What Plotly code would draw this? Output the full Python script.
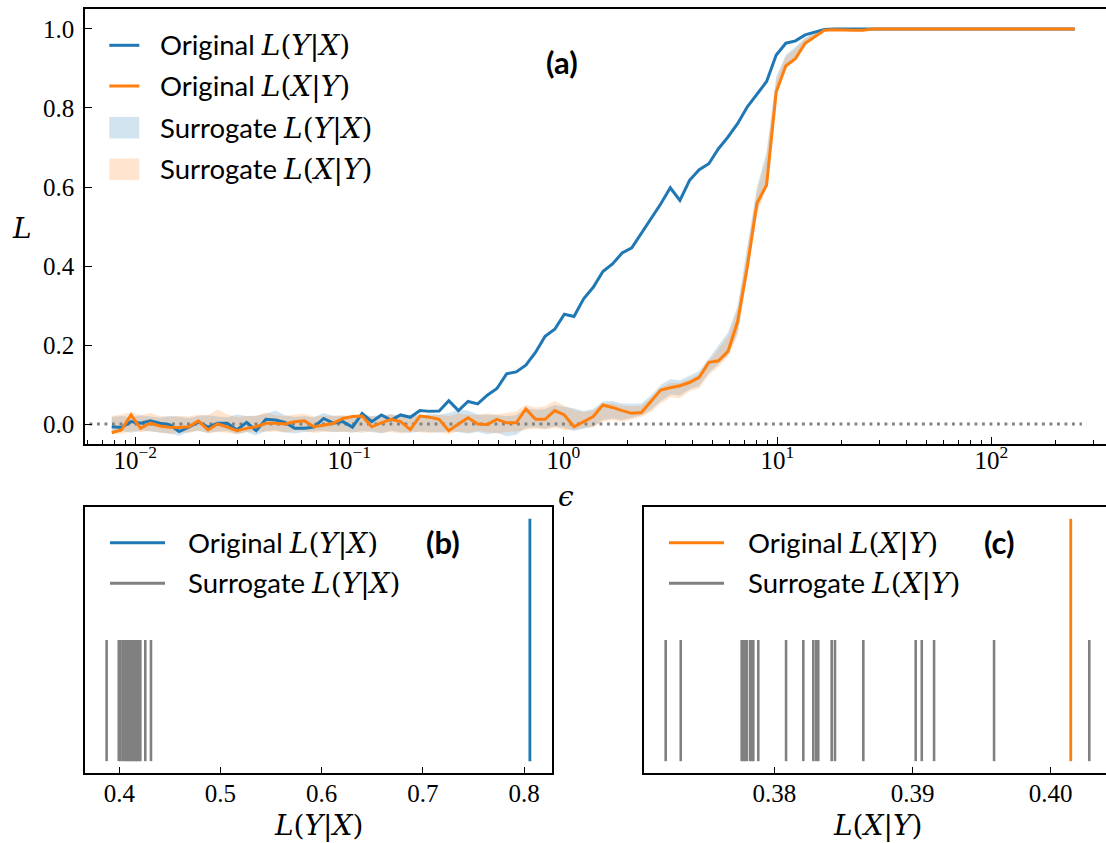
import numpy as np
import plotly.graph_objects as go

W, H = 1106, 843

# ---------------- data: panel (a) ----------------
EPS = np.logspace(-2.11, 2.39, 101)

L_YX = [-0.007, -0.009, 0.006, 0.002, 0.008, 0.002, -0.002, -0.019, -0.008, 0.005,
        -0.008, 0.002, 0.002, -0.015, 0.004, -0.017, 0.012, 0.010, 0.004, -0.011,
        -0.011, -0.008, 0.014, 0.002, 0.006, -0.008, 0.027, 0.006, 0.023, 0.010,
        0.023, 0.017, 0.034, 0.032, 0.033, 0.059, 0.034, 0.057, 0.051, 0.073,
        0.090, 0.127, 0.132, 0.149, 0.181, 0.222, 0.240, 0.278, 0.272, 0.317,
        0.346, 0.386, 0.405, 0.433, 0.446, 0.483, 0.520, 0.557, 0.598, 0.566,
        0.617, 0.644, 0.659, 0.697, 0.727, 0.761, 0.803, 0.835, 0.867, 0.934,
        0.964, 0.970, 0.985, 0.992, 0.999, 1.0, 1.0, 1.0, 1.0, 1.0,
        1.0, 1.0, 1.0, 1.0, 1.0, 1.0, 1.0, 1.0, 1.0, 1.0,
        1.0, 1.0, 1.0, 1.0, 1.0, 1.0, 1.0, 1.0, 1.0, 1.0, 1.0]

L_XY = [-0.022, -0.015, 0.023, -0.011, 0.002, -0.005, -0.008, -0.009, -0.007, 0.008,
        -0.015, 0.000, -0.008, -0.017, -0.011, -0.007, 0.002, 0.002, 0.000, 0.006,
        0.008, -0.007, -0.003, 0.002, 0.014, 0.019, 0.020, -0.007, 0.003, 0.012,
        0.006, -0.014, 0.020, 0.017, 0.012, -0.017, 0.000, 0.016, 0.000, -0.001,
        0.012, 0.003, 0.003, 0.038, 0.012, 0.012, 0.034, 0.023, -0.007, 0.006,
        0.019, 0.048, 0.042, 0.034, 0.027, 0.029, 0.057, 0.086, 0.092, 0.097,
        0.105, 0.118, 0.156, 0.160, 0.184, 0.260, 0.398, 0.559, 0.605, 0.841,
        0.907, 0.925, 0.964, 0.980, 0.997, 0.998, 0.997, 0.997, 0.997, 1.0,
        1.0, 1.0, 1.0, 1.0, 1.0, 1.0, 1.0, 1.0, 1.0, 1.0,
        1.0, 1.0, 1.0, 1.0, 1.0, 1.0, 1.0, 1.0, 1.0, 1.0, 1.0]

SUR_YX_HI = [0.018, 0.020, 0.017, 0.022, 0.019, 0.016, 0.021, 0.018, 0.015, 0.020,
             0.022, 0.019, 0.017, 0.024, 0.020, 0.021, 0.026, 0.034, 0.022, 0.018,
             0.020, 0.017, 0.028, 0.021, 0.021, 0.019, 0.024, 0.020, 0.022, 0.025,
             0.020, 0.023, 0.021, 0.026, 0.024, 0.028, 0.037, 0.034, 0.025, 0.024,
             0.022, 0.020, 0.023, 0.040, 0.036, 0.038, 0.048, 0.044, 0.040, 0.033,
             0.038, 0.057, 0.058, 0.052, 0.051, 0.052, 0.073, 0.099, 0.113, 0.111,
             0.122, 0.134, 0.166, 0.200, 0.232, 0.300, 0.445, 0.600, 0.690, 0.880,
             0.935, 0.955, 0.978, 0.991, 0.999, 1.0, 1.0, 1.0, 1.0, 1.0,
             1.0, 1.0, 1.0, 1.0, 1.0, 1.0, 1.0, 1.0, 1.0, 1.0,
             1.0, 1.0, 1.0, 1.0, 1.0, 1.0, 1.0, 1.0, 1.0, 1.0, 1.0]

SUR_YX_LO = [-0.020, -0.018, -0.022, -0.016, -0.019, -0.021, -0.024, -0.030, -0.020, -0.017,
             -0.022, -0.019, -0.018, -0.025, -0.020, -0.029, -0.018, -0.016, -0.021, -0.024,
             -0.020, -0.019, -0.017, -0.021, -0.019, -0.022, -0.018, -0.020, -0.024, -0.017,
             -0.021, -0.023, -0.019, -0.020, -0.022, -0.018, -0.021, -0.024, -0.020, -0.026,
             -0.022, -0.031, -0.027, -0.010, -0.008, -0.012, -0.006, -0.010, -0.018, -0.012,
             -0.006, 0.010, 0.014, 0.010, 0.016, 0.022, 0.036, 0.058, 0.075, 0.072,
             0.088, 0.096, 0.130, 0.152, 0.178, 0.232, 0.382, 0.538, 0.612, 0.838,
             0.906, 0.928, 0.962, 0.979, 0.995, 0.997, 0.997, 0.997, 0.997, 0.997,
             0.997, 0.997, 0.997, 0.997, 0.997, 0.997, 0.997, 0.997, 0.997, 0.997,
             0.997, 0.997, 0.997, 0.997, 0.997, 0.997, 0.997, 0.997, 0.997, 0.997, 0.997]

SUR_XY_HI = [0.020, 0.024, 0.030, 0.022, 0.028, 0.020, 0.018, 0.021, 0.019, 0.024,
             0.022, 0.037, 0.024, 0.018, 0.020, 0.021, 0.029, 0.022, 0.020, 0.024,
             0.026, 0.019, 0.021, 0.020, 0.022, 0.020, 0.025, 0.019, 0.021, 0.024,
             0.020, 0.022, 0.025, 0.021, 0.023, 0.020, 0.026, 0.024, 0.022, 0.027,
             0.025, 0.028, 0.032, 0.048, 0.042, 0.045, 0.059, 0.046, 0.036, 0.030,
             0.035, 0.052, 0.052, 0.046, 0.045, 0.046, 0.066, 0.092, 0.104, 0.104,
             0.114, 0.126, 0.158, 0.190, 0.222, 0.290, 0.435, 0.590, 0.675, 0.870,
             0.930, 0.950, 0.975, 0.990, 0.999, 1.0, 1.0, 1.0, 1.0, 1.0,
             1.0, 1.0, 1.0, 1.0, 1.0, 1.0, 1.0, 1.0, 1.0, 1.0,
             1.0, 1.0, 1.0, 1.0, 1.0, 1.0, 1.0, 1.0, 1.0, 1.0, 1.0]

SUR_XY_LO = [-0.022, -0.026, -0.018, -0.021, -0.017, -0.022, -0.025, -0.020, -0.023, -0.017,
             -0.024, -0.020, -0.022, -0.026, -0.021, -0.018, -0.020, -0.019, -0.022, -0.017,
             -0.018, -0.023, -0.020, -0.019, -0.021, -0.019, -0.023, -0.018, -0.022, -0.020,
             -0.024, -0.019, -0.021, -0.023, -0.020, -0.025, -0.019, -0.022, -0.018, -0.021,
             -0.024, -0.020, -0.019, -0.015, -0.012, -0.014, -0.010, -0.015, -0.014, -0.010,
             -0.008, 0.006, 0.010, 0.006, 0.012, 0.018, 0.031, 0.052, 0.068, 0.065,
             0.083, 0.090, 0.124, 0.145, 0.170, 0.225, 0.375, 0.530, 0.600, 0.830,
             0.900, 0.922, 0.958, 0.976, 0.994, 0.997, 0.997, 0.997, 0.997, 0.997,
             0.997, 0.997, 0.997, 0.997, 0.997, 0.997, 0.997, 0.997, 0.997, 0.997,
             0.997, 0.997, 0.997, 0.997, 0.997, 0.997, 0.997, 0.997, 0.997, 0.997, 0.997]

# ---------------- data: panels (b) and (c) ----------------
B_ORIGINAL = [0.8058]
B_SURROGATE = [0.3875, 0.3995, 0.4012, 0.4035, 0.4050, 0.4062, 0.4078, 0.4090, 0.4105,
               0.4118, 0.4130, 0.4145, 0.4158, 0.4170, 0.4182, 0.4195, 0.4208, 0.4257, 0.4313]
C_ORIGINAL = [0.40145]
C_SURROGATE = [0.37214, 0.37323, 0.37764, 0.37776, 0.37788, 0.37800, 0.37824, 0.37836,
               0.37848, 0.37884, 0.38085, 0.38210, 0.38282, 0.38302, 0.38318, 0.38415,
               0.38439, 0.38644, 0.39023, 0.39067, 0.39156, 0.39590, 0.40279]

# ---------------- ticks ----------------
A_XTICKS = [0.01, 0.1, 1, 10, 100]
A_XTICKTEXT = ["10<sup>−2</sup>", "10<sup>−1</sup>", "10<sup>0</sup>", "10<sup>1</sup>", "10<sup>2</sup>"]
A_XMINOR = [k * 10.0 ** d for d in range(-3, 3) for k in range(2, 10)]
A_YTICKS = [0.0, 0.2, 0.4, 0.6, 0.8, 1.0]
A_YTICKTEXT = ["0.0", "0.2", "0.4", "0.6", "0.8", "1.0"]
B_XTICKS = [0.4, 0.5, 0.6, 0.7, 0.8]
B_XTICKTEXT = ["0.4", "0.5", "0.6", "0.7", "0.8"]
C_XTICKS = [0.38, 0.39, 0.40]
C_XTICKTEXT = ["0.38", "0.39", "0.40"]

# ---------------- styles ----------------
BLUE = "#1f77b4"
ORANGE = "#ff7f0e"
GRAY = "#808080"
BLUE_FILL = "rgba(31,119,180,0.2)"
ORANGE_FILL = "rgba(255,127,14,0.2)"
SANS = "Lato"
SERIF = "Liberation Serif"
MATH = "DejaVu Serif"


def fx(p):
    return p / W


def fy(p):
    return 1 - p / H


def math(a, b):
    return f"<i>L</i>(<i>{a}</i>|<i>{b}</i>)"


def label(kind, a, b):
    return f"{kind} <span style=\"font-family:'{MATH}';font-size:28px\">{math(a, b)}</span>"


def vlines(vals, top):
    xs, ys = [], []
    for v in vals:
        xs += [v, v, None]
        ys += [0, top, None]
    return xs, ys


fig = go.Figure()

# ---- panel (a) ----
fig.add_trace(go.Scatter(x=EPS, y=SUR_YX_LO, mode="lines", line=dict(width=0, color=BLUE),
                         showlegend=False, hoverinfo="skip", xaxis="x", yaxis="y"))
fig.add_trace(go.Scatter(x=EPS, y=SUR_YX_HI, mode="lines", line=dict(width=0, color=BLUE),
                         fill="tonexty", fillcolor=BLUE_FILL, name="Surrogate L(Y|X)",
                         showlegend=False, xaxis="x", yaxis="y"))
fig.add_trace(go.Scatter(x=EPS, y=SUR_XY_LO, mode="lines", line=dict(width=0, color=ORANGE),
                         showlegend=False, hoverinfo="skip", xaxis="x", yaxis="y"))
fig.add_trace(go.Scatter(x=EPS, y=SUR_XY_HI, mode="lines", line=dict(width=0, color=ORANGE),
                         fill="tonexty", fillcolor=ORANGE_FILL, name="Surrogate L(X|Y)",
                         showlegend=False, xaxis="x", yaxis="y"))
fig.add_trace(go.Scatter(x=[EPS[0] / 1.27, EPS[-1] * 1.08], y=[0, 0], mode="lines",
                         line=dict(color=GRAY, width=2.8, dash="2.8px,4.7px"),
                         showlegend=False, xaxis="x", yaxis="y"))
fig.add_trace(go.Scatter(x=EPS, y=L_YX, mode="lines", line=dict(color=BLUE, width=3),
                         name="Original L(Y|X)", showlegend=False, xaxis="x", yaxis="y"))
fig.add_trace(go.Scatter(x=EPS, y=L_XY, mode="lines", line=dict(color=ORANGE, width=3),
                         name="Original L(X|Y)", showlegend=False, xaxis="x", yaxis="y"))

# ---- panel (b) ----
xs, ys = vlines(B_SURROGATE, 0.5)
fig.add_trace(go.Scatter(x=xs, y=ys, mode="lines", line=dict(color=GRAY, width=2.6),
                         name="Surrogate L(Y|X)", showlegend=False, xaxis="x2", yaxis="y2"))
xs, ys = vlines(B_ORIGINAL, 1.0)
fig.add_trace(go.Scatter(x=xs, y=ys, mode="lines", line=dict(color=BLUE, width=2.8),
                         name="Original L(Y|X)", showlegend=False, xaxis="x2", yaxis="y2"))

# ---- panel (c) ----
xs, ys = vlines(C_SURROGATE, 0.5)
fig.add_trace(go.Scatter(x=xs, y=ys, mode="lines", line=dict(color=GRAY, width=2.6),
                         name="Surrogate L(X|Y)", showlegend=False, xaxis="x3", yaxis="y3"))
xs, ys = vlines(C_ORIGINAL, 1.0)
fig.add_trace(go.Scatter(x=xs, y=ys, mode="lines", line=dict(color=ORANGE, width=2.8),
                         name="Original L(X|Y)", showlegend=False, xaxis="x3", yaxis="y3"))

tickfont = dict(family=SERIF, size=25, color="black")
common = dict(showline=True, linecolor="black", linewidth=1.6, showgrid=False, zeroline=False,
              ticks="inside", ticklen=7, tickwidth=1.3, tickcolor="black", tickfont=tickfont)

fig.update_layout(
    width=W, height=H, autosize=False,
    margin=dict(l=0, r=0, t=0, b=0),
    paper_bgcolor="white", plot_bgcolor="white",
    showlegend=False,
    xaxis=dict(type="log", domain=[fx(85), 1.0], range=[-2.235, 2.536], anchor="y",
               tickmode="array", tickvals=A_XTICKS, ticktext=A_XTICKTEXT, mirror=True,
               ticklabelstandoff=-7,
               minor=dict(ticks="inside", ticklen=4, tickwidth=1.1, tickcolor="black",
                          tickmode="array", tickvals=A_XMINOR, showgrid=False),
               **common),
    yaxis=dict(domain=[fy(444), fy(9)], range=[-0.0506, 1.0506], anchor="x",
               tickmode="array", tickvals=A_YTICKS, ticktext=A_YTICKTEXT, mirror=False,
               ticklabelstandoff=4, **common),
    xaxis2=dict(domain=[fx(85), fx(551.7)], range=[0.36611, 0.82737], anchor="y2",
                tickmode="array", tickvals=B_XTICKS, ticktext=B_XTICKTEXT, mirror=True,
                ticklabelstandoff=-3, **common),
    yaxis2=dict(domain=[fy(773.3), fy(506.7)], range=[-0.05, 1.05], anchor="x2",
                showline=True, linecolor="black", linewidth=1.6, mirror=True,
                showgrid=False, zeroline=False, ticks="", showticklabels=False),
    xaxis3=dict(domain=[fx(644), 1.0], range=[0.370571, 0.40400], anchor="y3",
                tickmode="array", tickvals=C_XTICKS, ticktext=C_XTICKTEXT, mirror=True,
                ticklabelstandoff=-3, **common),
    yaxis3=dict(domain=[fy(773.3), fy(506.7)], range=[-0.05, 1.05], anchor="x3",
                showline=True, linecolor="black", linewidth=1.6, mirror=False,
                showgrid=False, zeroline=False, ticks="", showticklabels=False),
)

shapes = []
annotations = []
LEG_FONT = dict(family=SANS, size=27.5, color="black")


def leg_line(x0, x1, y, color):
    shapes.append(dict(type="line", xref="paper", yref="paper", x0=fx(x0), x1=fx(x1),
                       y0=fy(y), y1=fy(y), line=dict(color=color, width=3)))


def leg_patch(x0, x1, y, color):
    shapes.append(dict(type="rect", xref="paper", yref="paper", x0=fx(x0), x1=fx(x1),
                       y0=fy(y + 10.8), y1=fy(y - 10.8), fillcolor=color, line=dict(width=0)))


def leg_text(x, y, text):
    annotations.append(dict(xref="paper", yref="paper", x=fx(x), y=fy(y), text=text,
                            showarrow=False, xanchor="left", yanchor="middle", font=LEG_FONT))


def free_text(x, y, text, font):
    annotations.append(dict(xref="paper", yref="paper", x=fx(x), y=fy(y), text=text,
                            showarrow=False, xanchor="center", yanchor="middle", font=font))


# legend (a)
leg_line(109.3, 139.3, 45.3, BLUE)
leg_text(158, 45.3, label("Original", "Y", "X"))
leg_line(109.3, 139.3, 86.0, ORANGE)
leg_text(158, 86.0, label("Original", "X", "Y"))
leg_patch(109.3, 139.3, 127.7, BLUE_FILL)
leg_text(158, 127.7, label("Surrogate", "Y", "X"))
leg_patch(109.3, 139.3, 169.3, ORANGE_FILL)
leg_text(158, 169.3, label("Surrogate", "X", "Y"))

# legend (b)
leg_line(110, 165, 542.7, BLUE)
leg_text(186, 542.7, label("Original", "Y", "X"))
leg_line(110, 165, 583.3, GRAY)
leg_text(186, 583.3, label("Surrogate", "Y", "X"))

# legend (c)
leg_line(669, 724, 542.7, ORANGE)
leg_text(745.5, 542.7, label("Original", "X", "Y"))
leg_line(669, 724, 583.3, GRAY)
leg_text(745.5, 583.3, label("Surrogate", "X", "Y"))

# panel tags
TAG_FONT = dict(family=SANS, size=31, color="black")
free_text(562, 62, "<b>(a)</b>", TAG_FONT)
free_text(442.5, 541.7, "<b>(b)</b>", TAG_FONT)
free_text(999.7, 541.7, "<b>(c)</b>", TAG_FONT)

# axis labels
AX_FONT = dict(family=MATH, size=28, color="black")
free_text(22, 228, "<i>L</i>", AX_FONT)
free_text(566, 496, "<i>ϵ</i>", AX_FONT)
free_text(318, 825, math("Y", "X"), AX_FONT)
free_text(877, 825, math("X", "Y"), AX_FONT)

fig.update_layout(shapes=shapes, annotations=annotations)

fig.write_html("out.html", config={"displayModeBar": False})
